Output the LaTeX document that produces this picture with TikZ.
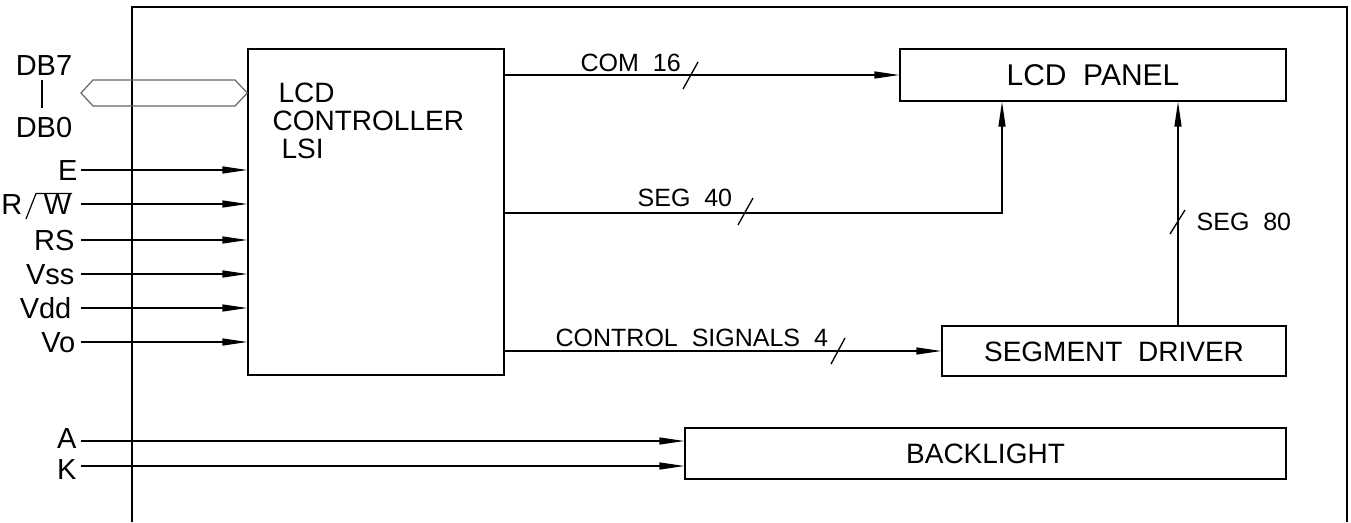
\documentclass[tikz,border=0pt]{standalone}
\usepackage{fontspec}
\setmainfont{Liberation Sans}
\usetikzlibrary{arrows.meta,calc}
\newcommand{\capfont}[1]{\fontsize{#1}{#1}\selectfont}
\begin{document}
\begin{tikzpicture}[x=1pt,y=-1pt,
  line width=1.3pt,
  box/.style={draw, inner sep=0pt, text height=20pt, text depth=0pt, font=\capfont{28pt}},
  arr/.style={-{Triangle[length=25pt,width=7pt]}},
  tickmark/.style={line width=1.3pt},
  lbl/.style={inner sep=0pt, anchor=base west, font=\capfont{25pt}},
  sig/.style={inner sep=0pt, anchor=east, text height=20.8pt, text depth=0pt, font=\capfont{29pt}},
  ctext/.style={inner sep=0pt, anchor=base west, font=\capfont{28pt}},
  bus/.style={draw=black!60, line width=1.2pt, line join=miter}
]
\useasboundingbox (0,0) rectangle (1351,522);

% outer frame (open at the bottom)
\draw (132,522) -- (132,7) -- (1347,7) -- (1347,522);

% boxes
\node[box, minimum width=256pt, minimum height=326pt] (ctrl) at (376,212) {};
\node[ctext] (c1) at (278,102) {LCD};
\node[ctext] (c2) at (272,130) {CONTROLLER};
\node[ctext] (c3) at (281,158) {LSI};

\node[box, minimum width=386pt, minimum height=52pt, font=\capfont{30pt}, text height=21.5pt] (lcd) at (1093,75) {LCD\ \ PANEL};
\node[box, minimum width=344pt, minimum height=50pt] (seg) at (1114,351) {SEGMENT\ \ DRIVER};
\node[box, minimum width=601pt, minimum height=51pt] (bl) at (985.5,453.5) {BACKLIGHT};

% data bus
\node[inner sep=0pt, anchor=base, font=\capfont{29pt}] (db7) at (44,75) {DB7};
\node[inner sep=0pt, anchor=base, font=\capfont{29pt}] (db0) at (44,137) {DB0};
\draw[line width=1.5pt] (42,80) -- (42,108);
\coordinate (busR) at (ctrl.west |- 0,93);
\draw[bus] (81,93) -- (93,80) -- (235,80) -- (busR) -- (235,106) -- (93,106) -- cycle;

% control inputs
\node[sig] (E) at (78,170) {E};
\node[sig] (R) at (23,204) {R};
\node[sig] (W) at (72,204) {W};
\draw[line width=1.2pt] (26,219) -- (36,193.5) -- (72,193.5);
\coordinate (RWend) at (75,204);
\node[sig] (RS) at (75,240) {RS};
\node[sig] (Vss) at (75,274) {Vss};
\node[sig] (Vdd) at (72,308) {Vdd};
\node[sig] (Vo) at (76,342) {Vo};
\node[sig, text height=19pt] (A) at (77,439) {A};
\node[sig, text height=19pt] (K) at (77,470) {K};
\coordinate (Aend) at (78,441);
\coordinate (Kend) at (78,466);

\foreach \s in {E,RS,Vss,Vdd,Vo}{
  \draw[arr] (81,0 |- \s.east) -- (\s.east -| ctrl.west);
}
\draw[arr] (81,0 |- RWend) -- (RWend -| ctrl.west);
\draw[arr] (81,0 |- Aend) -- (Aend -| bl.west);
\draw[arr] (81,0 |- Kend) -- (Kend -| bl.west);

% outputs
\draw[arr] (ctrl.east |- lcd.west) -- (lcd.west);
\node[lbl] (com) at (580,71) {COM\ \ 16};
\draw[tickmark] (683,89) -- (698,62);

\coordinate (s40) at (1002,213);
\draw[arr] (ctrl.east |- s40) -| (lcd.south -| s40);
\node[lbl] (seg40) at (637,206) {SEG\ \ 40};
\draw[tickmark] (738,225) -- (753,198);

\coordinate (s80) at (1178,222);
\draw[arr] (seg.north -| s80) -- (lcd.south -| s80);
\node[lbl] (seg80) at (1196,230) {SEG\ \ 80};
\draw[tickmark] (1170,234) -- (1185,210);

\draw[arr] (ctrl.east |- seg.west) -- (seg.west);
\node[lbl] (cs) at (555,346) {CONTROL\ \ SIGNALS\ \ 4};
\draw[tickmark] (831,364) -- (845,338);
\end{tikzpicture}
\end{document}
